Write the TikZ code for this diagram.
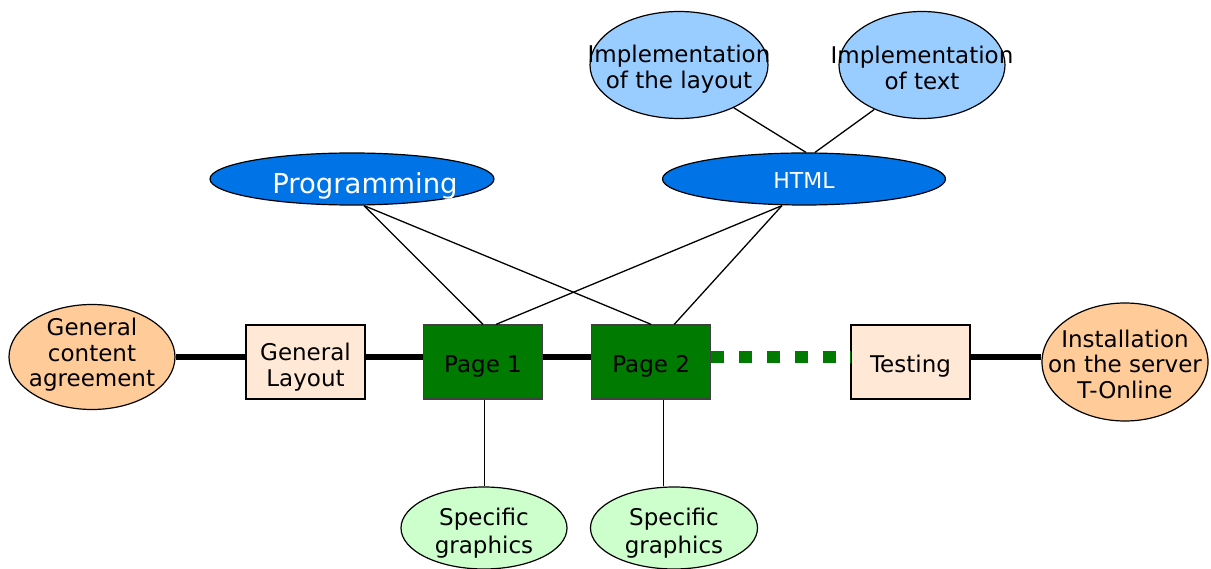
\documentclass[tikz,border=0pt]{standalone}
\usepackage{fontspec}
\setmainfont{DejaVu Sans}
\usetikzlibrary{shapes.geometric,positioning}
\definecolor{peach}{HTML}{FFCC99}
\definecolor{lightpeach}{HTML}{FFE9D6}
\definecolor{pagegreen}{HTML}{007A00}
\definecolor{deepblue}{HTML}{0073E6}
\definecolor{skyblue}{HTML}{99CCFF}
\definecolor{mintgreen}{HTML}{CCFFCC}

\begin{document}
\begin{tikzpicture}[x=1pt,y=-1pt,
font=\fontsize{23}{25.5}\selectfont,
oval/.style={ellipse,draw,line width=1.2pt,inner sep=0pt},
phase/.style={rectangle,draw,line width=1.2pt,inner sep=0pt,minimum width=119pt,minimum height=74pt,text height=22pt,text depth=0pt,fill=lightpeach},
page/.style={phase,fill=pagegreen,draw=black!75},
spine/.style={line width=6pt},
greenline/.style={line width=12pt,draw=pagegreen,dash pattern=on 13pt off 14.8pt},
link/.style={line width=1.3pt},
]
\useasboundingbox[fill=white] (0,0) rectangle (1211,569);

\node [oval,fill=peach,minimum width=166pt,minimum height=105pt,
  label={[align=center,yshift=2pt]center:General\\content\\agreement}] (GCA) at (92,357) {};
\node [phase,label={[align=center,yshift=-5pt]center:General\\Layout}] (GL) at (305.5,362) {};
\node [page] (P1) at (483,362) {Page 1};
\node [page] (P2) [right=48pt of P1] {Page 2};
\node [phase] (Test) at (910.5,362) {Testing};
\node [oval,fill=peach,minimum width=166pt,minimum height=118pt,
  label={[align=center,yshift=-2pt]center:Installation\\on the server\\T-Online}] (Inst) at (1125,362) {};

\node [oval,fill=deepblue,minimum width=284pt,minimum height=52pt,
  label={[xshift=13pt,yshift=-7pt,text=white,font=\fontsize{27.5}{30}\selectfont]center:Programming}] (Prog) at (352,179) {};
\node [oval,fill=deepblue,minimum width=283pt,minimum height=52pt,
  label={[yshift=-1pt,text=white,font=\fontsize{22}{25}\selectfont]center:HTML}] (HTML) at (804,179) {};

\node [oval,fill=skyblue,minimum width=178pt,minimum height=107pt,
  label={[align=center,yshift=-4pt]center:Implementation\\of the layout}] (ImpL) at (679,65) {};
\node [oval,fill=skyblue,minimum width=166pt,minimum height=107pt,
  label={[align=center,yshift=-3pt]center:Implementation\\of text}] (ImpT) at (922,65) {};

\node [oval,fill=mintgreen,minimum width=166pt,minimum height=82pt,
  label={[align=center,yshift=-5pt,font=\fontsize{23}{28}\selectfont]center:Specific\\graphics}] (SG1) at (484,528) {};
\node [oval,fill=mintgreen,minimum width=167pt,minimum height=82pt,
  label={[align=center,yshift=-5pt,font=\fontsize{23}{28}\selectfont]center:Specific\\graphics}] (SG2) at (674,528) {};

% main line
\draw [spine] (GCA.east) to node {} ([yshift=5pt]GL.west);
\draw [spine] ([yshift=5pt]GL.east) to node {} ([yshift=5pt]P1.west);
\draw [spine] ([yshift=5pt]P1.east) to node {} ([yshift=5pt]P2.west);
\draw [greenline] ([yshift=5pt]P2.east) to node {} ([yshift=5pt]Test.west);
\draw [spine] ([yshift=5pt]Test.east) to node {} ([yshift=5pt]Inst.west);

% upper links
\draw [link] (ImpL.-38) to node {} ([xshift=2pt]HTML.north);
\draw [link] (ImpT.223) to node {} ([xshift=11pt]HTML.north);

\foreach \vp in {P1, P2}
{
\draw [link] ([xshift=12pt]Prog.south) to node {} (\vp.north);
}
\draw [link] ([xshift=-22pt]HTML.south) to node {} ([xshift=13pt]P1.north);
\draw [link] ([xshift=-22pt]HTML.south) to node {} ([xshift=23pt]P2.north);

% lower links
\draw [link] ([xshift=1.5pt]P1.south) to node {} ([xshift=1.5pt]P1.south |- SG1.north);
\draw [link] ([xshift=12pt]P2.south) to node {} ([xshift=12pt]P2.south |- SG2.north);

\end{tikzpicture}
\end{document}
